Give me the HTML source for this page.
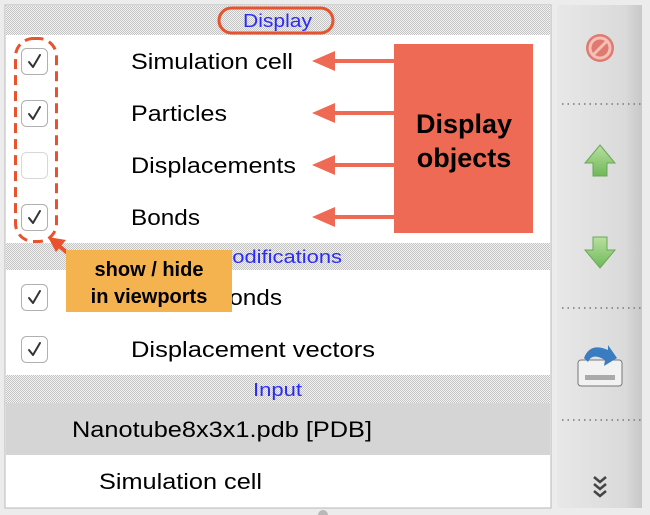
<!DOCTYPE html>
<html><head><style>
html,body{margin:0;padding:0;background:#ececec;width:650px;height:515px;overflow:hidden}
svg{display:block}
text{font-family:"Liberation Sans",sans-serif}
</style></head><body>
<svg width="650" height="515" viewBox="0 0 650 515" xmlns="http://www.w3.org/2000/svg">
<defs>
<pattern id="ck" width="2" height="2" patternUnits="userSpaceOnUse">
<rect width="2" height="2" fill="#f2f2f2"/><rect width="1" height="1" fill="#c4c4c4"/><rect x="1" y="1" width="1" height="1" fill="#c4c4c4"/>
</pattern>
<linearGradient id="tb" x1="0" x2="1"><stop offset="0" stop-color="#e8e8e8"/><stop offset="0.8" stop-color="#dadada"/><stop offset="1" stop-color="#c8c8c8"/></linearGradient>
<linearGradient id="gr" x1="0" y1="0" x2="0" y2="1"><stop offset="0" stop-color="#b8e0a0"/><stop offset="1" stop-color="#6fb858"/></linearGradient>
</defs>
<rect width="650" height="515" fill="#ececec"/>
<rect x="5" y="5" width="546" height="503" fill="#fff" stroke="#b8b8b8"/>
<rect x="6" y="6" width="544" height="29" fill="url(#ck)"/>
<rect x="6" y="243" width="544" height="27" fill="url(#ck)"/>
<rect x="6" y="375" width="544" height="28" fill="url(#ck)"/>
<rect x="6" y="403" width="544" height="52" fill="#d5d5d5"/>
<text x="243" y="27" font-size="18" fill="#2a2aff" textLength="69" lengthAdjust="spacingAndGlyphs">Display</text>
<text x="214" y="263" font-size="18" fill="#2a2aff" textLength="128" lengthAdjust="spacingAndGlyphs">Modifications</text>
<text x="253" y="396" font-size="18" fill="#2a2aff" textLength="49" lengthAdjust="spacingAndGlyphs">Input</text>
<g font-size="22" fill="#000">
<text x="131" y="69" textLength="162" lengthAdjust="spacingAndGlyphs">Simulation cell</text>
<text x="131" y="121" textLength="96" lengthAdjust="spacingAndGlyphs">Particles</text>
<text x="131" y="173" textLength="165" lengthAdjust="spacingAndGlyphs">Displacements</text>
<text x="131" y="225" textLength="69" lengthAdjust="spacingAndGlyphs">Bonds</text>
<text x="213" y="305" textLength="69" lengthAdjust="spacingAndGlyphs">Bonds</text>
<text x="131" y="357" textLength="244" lengthAdjust="spacingAndGlyphs">Displacement vectors</text>
<text x="72" y="437" textLength="300" lengthAdjust="spacingAndGlyphs">Nanotube8x3x1.pdb [PDB]</text>
<text x="99" y="489" textLength="163" lengthAdjust="spacingAndGlyphs">Simulation cell</text>
</g>
<g fill="#fff" stroke="#b0b0b0" stroke-width="1">
<rect x="21.5" y="48.5" width="26" height="26" rx="5"/>
<rect x="21.5" y="100.5" width="26" height="26" rx="5"/>
<rect x="21.5" y="152.5" width="26" height="26" rx="5" stroke="#d8d8d8"/>
<rect x="21.5" y="204.5" width="26" height="26" rx="5"/>
<rect x="21.5" y="284.5" width="26" height="26" rx="5"/>
<rect x="21.5" y="336.5" width="26" height="26" rx="5"/>
</g>
<g fill="none" stroke="#333" stroke-width="2" stroke-linecap="round" stroke-linejoin="round">
<path d="M29 62 L33 67 L40 55"/>
<path d="M29 114 L33 119 L40 107"/>
<path d="M29 218 L33 223 L40 211"/>
<path d="M29 298 L33 303 L40 291"/>
<path d="M29 350 L33 355 L40 343"/>
</g>
<rect x="219" y="8" width="114" height="25" rx="12.5" fill="none" stroke="#e8532e" stroke-width="3"/>
<rect x="15.5" y="38.5" width="41" height="203" rx="18" fill="none" stroke="#e8532e" stroke-width="3" stroke-dasharray="10,6"/>
<rect x="394" y="44" width="139" height="189" fill="#ee6a55"/>
<text x="464" y="133" font-size="27" font-weight="bold" text-anchor="middle" fill="#000">Display</text>
<text x="464" y="167" font-size="27" font-weight="bold" text-anchor="middle" fill="#000">objects</text>
<g fill="#ee6a55" stroke="#ee6a55" stroke-width="4">
<line x1="396" y1="61" x2="330" y2="61"/><polygon points="312,61 335,51 335,71" stroke="none"/>
<line x1="396" y1="113" x2="330" y2="113"/><polygon points="312,113 335,103 335,123" stroke="none"/>
<line x1="396" y1="165" x2="330" y2="165"/><polygon points="312,165 335,155 335,175" stroke="none"/>
<line x1="396" y1="217" x2="330" y2="217"/><polygon points="312,217 335,207 335,227" stroke="none"/>
</g>
<line x1="78" y1="262" x2="58" y2="245" stroke="#e8532e" stroke-width="4"/>
<polygon points="48,237 66,240 56,252" fill="#e8532e"/>
<rect x="66" y="250" width="166" height="62" fill="#f5b350"/>
<text x="149" y="276" font-size="20" font-weight="bold" text-anchor="middle" fill="#000">show / hide</text>
<text x="149" y="303" font-size="20" font-weight="bold" text-anchor="middle" fill="#000">in viewports</text>
<rect x="557" y="5" width="85" height="503" fill="url(#tb)"/>
<circle cx="600" cy="48" r="14" fill="#e07a70"/><circle cx="600" cy="48" r="10" fill="none" stroke="#f4c0b8" stroke-width="3"/><line x1="593" y1="55" x2="607" y2="41" stroke="#f4c0b8" stroke-width="3"/>
<g stroke="#777" stroke-width="1.5" stroke-dasharray="1.5,4"><line x1="562" y1="104" x2="642" y2="104"/><line x1="562" y1="308" x2="642" y2="308"/><line x1="562" y1="420" x2="642" y2="420"/></g>
<polygon points="600,145 615,163 607,163 607,176 593,176 593,163 585,163" fill="url(#gr)" stroke="#6aa858"/>
<polygon points="600,268 615,250 607,250 607,237 593,237 593,250 585,250" fill="url(#gr)" stroke="#6aa858"/>
<rect x="578" y="360" width="44" height="26" rx="3" fill="#f2f2f2" stroke="#777"/>
<rect x="585" y="375" width="30" height="5" fill="#aaa"/>
<path d="M584 358 Q590 342 608 350 L608 345 L617 358 L604 366 L605 360 Q592 352 588 362 Z" fill="#3a7cc0"/>
<g fill="none" stroke="#444" stroke-width="2.5"><path d="M594 477 L600 482 L606 477"/><path d="M594 484 L600 489 L606 484"/><path d="M594 491 L600 496 L606 491"/></g>
<circle cx="323" cy="515" r="5" fill="#b8b8b8"/>
</svg>
</body></html>
